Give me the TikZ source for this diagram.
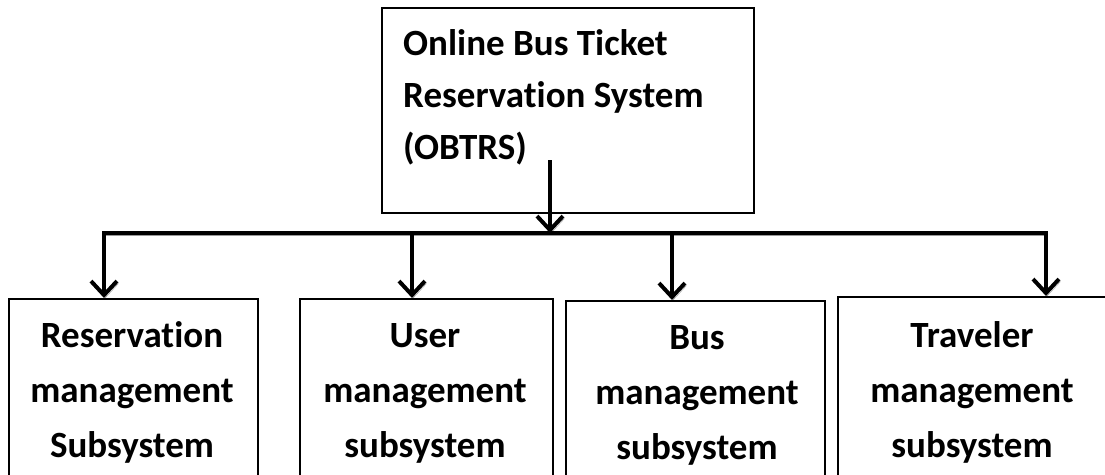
\documentclass[tikz,border=0pt]{standalone}
\usepackage{fontspec}
\setmainfont{Carlito}[Ligatures=NoCommon]
\usetikzlibrary{arrows.meta}
\begin{document}
\begin{tikzpicture}[x=1pt,y=-1pt,
  box/.style={draw, line width=1.8pt, inner sep=0pt, anchor=north west},
  lbl/.style={font=\bfseries\fontsize{37}{55}\selectfont, inner sep=0pt, align=center, anchor=base},
  toplbl/.style={font=\bfseries\fontsize{37}{52}\selectfont, inner sep=0pt, align=left, anchor=base west},
  shadowed/.style={preaction={draw=black!40, transform canvas={shift={(1.5,2.5)}}}},
  conn/.style={line width=4pt, line join=miter, shadowed}
]
\useasboundingbox (0,0) rectangle (1105,474);
\begin{scope}
\clip (0,0) rectangle (1105,474);
% boxes
\node[box, minimum width=372pt, minimum height=205pt] (top) at (381,7) {};
\node[box, minimum width=249pt, minimum height=200pt] (b1) at (8,298) {};
\node[box, minimum width=253pt, minimum height=200pt] (b2) at (299,298) {};
\node[box, minimum width=259pt, minimum height=200pt] (b3) at (565,300) {};
\node[box, minimum width=280pt, minimum height=200pt] (b4) at (837,296) {};
% texts
\node[toplbl] (t0) at (403,159) {Online Bus Ticket\\Reservation System\\(OBTRS)};
\node[lbl] (t1) at (132,457) {Reservation\\management\\Subsystem};
\node[lbl] (t2) at (425,457) {User\\management\\subsystem};
\node[lbl] (t3) at (697,459) {Bus\\management\\subsystem};
\node[lbl] (t4) at (972,457) {Traveler\\management\\subsystem};
% connectors
\coordinate (s) at (550,160);
\coordinate (j0) at (550,233);
\coordinate (j1) at (104,233);
\coordinate (j2) at (412,233);
\coordinate (j3) at (672,233);
\coordinate (j4) at (1046,233);
\draw[conn, -{Straight Barb[length=14pt,width=26pt]}] (s) -- (j0);
\draw[conn, {Straight Barb[length=14pt,width=26pt]}-{Straight Barb[length=14pt,width=26pt]}] (j1 |- b1.north) -- (j1) -- (j4) -- (j4 |- b4.north);
\draw[conn, -{Straight Barb[length=14pt,width=26pt]}] (j2) -- (j2 |- b2.north);
\draw[conn, -{Straight Barb[length=14pt,width=26pt]}] (j3) -- (j3 |- b3.north);
\end{scope}
\end{tikzpicture}
\end{document}
